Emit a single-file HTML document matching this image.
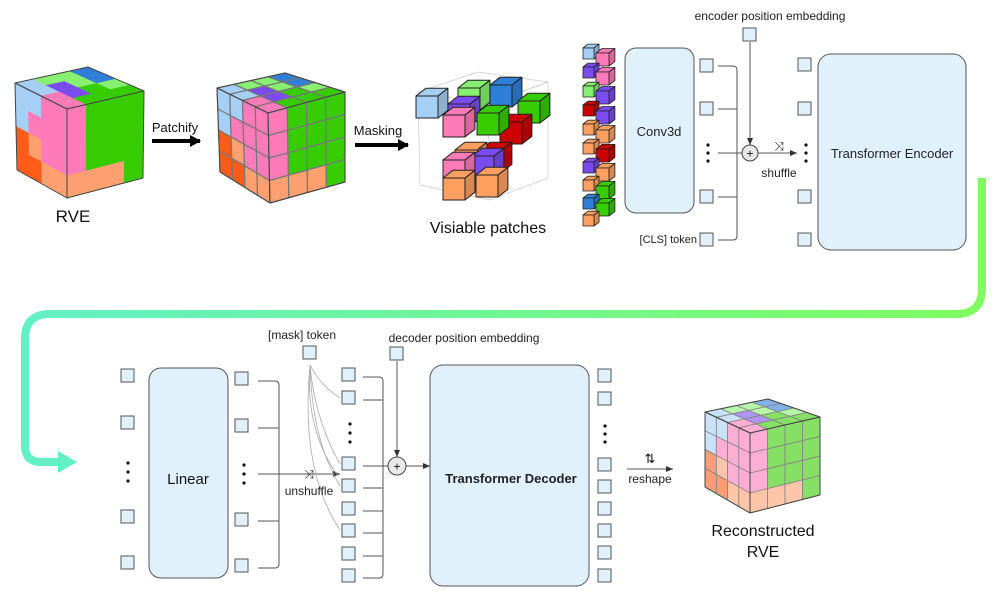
<!DOCTYPE html>
<html><head><meta charset="utf-8"><style>
html,body{margin:0;padding:0;background:#fff;}
svg{display:block;font-family:"Liberation Sans",Arial,sans-serif;}
</style></head><body>
<svg id="s" width="997" height="609" viewBox="0 0 997 609" xmlns="http://www.w3.org/2000/svg">
<defs>
<linearGradient id="gr" x1="0" y1="0" x2="1" y2="0">
<stop offset="0" stop-color="#62f0c6"/><stop offset="1" stop-color="#80fc60"/>
</linearGradient>
<marker id="ah" markerWidth="8" markerHeight="8" refX="7" refY="4" orient="auto" markerUnits="userSpaceOnUse">
<path d="M0,1 L7,4 L0,7 z" fill="#333"/></marker>
<marker id="bh" markerWidth="12" markerHeight="12" refX="10" refY="6" orient="auto" markerUnits="userSpaceOnUse">
<path d="M0,0 L11,6 L0,12 z" fill="#000"/></marker>
</defs>
<g id="cubes"></g>

<!-- top labels/arrows -->
<text x="73" y="222" font-size="17" text-anchor="middle" fill="#111">RVE</text>
<text x="175" y="132" font-size="13" text-anchor="middle" fill="#111">Patchify</text>
<line x1="152" y1="141" x2="200" y2="141" stroke="#000" stroke-width="4" marker-end="url(#bh)"/>
<text x="378" y="135" font-size="13" text-anchor="middle" fill="#111">Masking</text>
<line x1="355" y1="145" x2="408" y2="145" stroke="#000" stroke-width="4" marker-end="url(#bh)"/>
<text x="488" y="233" font-size="16" text-anchor="middle" fill="#111">Visiable patches</text>

<!-- encoder part -->
<rect x="625" y="48" width="69" height="165" rx="11" fill="#e1f1fc" stroke="#555" stroke-width="1"/>
<text x="659" y="136" font-size="13" text-anchor="middle" fill="#222">Conv3d</text>
<g fill="#e1f1fc" stroke="#555" stroke-width="1">
<rect x="700" y="59" width="13" height="13"/><rect x="700" y="102" width="13" height="13"/>
<rect x="700" y="190" width="13" height="13"/><rect x="700" y="233" width="13" height="13"/>
<rect x="743" y="28" width="13" height="13"/>
<rect x="798" y="58" width="13" height="13"/><rect x="798" y="102" width="13" height="13"/>
<rect x="798" y="190" width="13" height="13"/><rect x="798" y="233" width="13" height="13"/>
</g>
<g fill="#111"><circle cx="708" cy="145" r="1.6"/><circle cx="708" cy="153" r="1.6"/><circle cx="708" cy="161" r="1.6"/>
<circle cx="806" cy="145" r="1.6"/><circle cx="806" cy="153" r="1.6"/><circle cx="806" cy="161" r="1.6"/></g>
<text x="770" y="20" font-size="12" text-anchor="middle" fill="#222">encoder position embedding</text>
<text x="697" y="243" font-size="11" text-anchor="end" fill="#222">[CLS] token</text>
<g fill="none" stroke="#555" stroke-width="1">
<path d="M718 66 H733 Q737 66 737 70 V236 Q737 240 733 240 H718"/>
<line x1="718" y1="109" x2="737" y2="109"/><line x1="718" y1="197" x2="737" y2="197"/>
<line x1="718" y1="153" x2="742" y2="153"/>
<line x1="750" y1="42" x2="750" y2="145" marker-end="url(#ah)"/>
<line x1="758" y1="153" x2="797" y2="153" marker-end="url(#ah)"/>
</g>
<circle cx="750" cy="153" r="8" fill="#e8e8e8" stroke="#444"/>
<text x="750" y="157.5" font-size="12" text-anchor="middle" fill="#111">+</text>
<text x="779" y="150" font-size="12" text-anchor="middle" fill="#111">⤨</text>
<text x="779" y="177" font-size="12" text-anchor="middle" fill="#222">shuffle</text>
<rect x="818" y="54" width="148" height="196" rx="13" fill="#e1f1fc" stroke="#555"/>
<text x="892" y="158" font-size="13" text-anchor="middle" fill="#222">Transformer Encoder</text>

<!-- big gradient arrow -->
<path d="M982 178 V288 Q982 314 956 314 H50 Q25 314 25 339 V446 Q25 462 41 462 H62" fill="none" stroke="url(#gr)" stroke-width="8"/>
<path d="M58 451 L77 462 L58 473 z" fill="#62f0c6"/>

<!-- decoder part -->
<g fill="#e1f1fc" stroke="#555" stroke-width="1">
<rect x="121" y="369" width="13" height="13"/><rect x="121" y="416" width="13" height="13"/>
<rect x="121" y="510" width="13" height="13"/><rect x="121" y="556" width="13" height="13"/>
<rect x="235" y="372" width="13" height="13"/><rect x="235" y="419" width="13" height="13"/>
<rect x="235" y="513" width="13" height="13"/><rect x="235" y="559" width="13" height="13"/>
<rect x="303" y="346" width="13" height="13"/><rect x="390" y="347" width="13" height="13"/>
<rect x="342" y="368" width="13" height="13"/><rect x="342" y="391" width="13" height="13"/>
<rect x="342" y="457" width="13" height="13"/><rect x="342" y="479" width="13" height="13"/>
<rect x="342" y="502" width="13" height="13"/><rect x="342" y="524" width="13" height="13"/>
<rect x="342" y="547" width="13" height="13"/><rect x="342" y="569" width="13" height="13"/>
<rect x="598" y="369" width="13" height="13"/><rect x="598" y="392" width="13" height="13"/>
<rect x="598" y="458" width="13" height="13"/><rect x="598" y="480" width="13" height="13"/>
<rect x="598" y="502" width="13" height="13"/><rect x="598" y="524" width="13" height="13"/>
<rect x="598" y="546" width="13" height="13"/><rect x="598" y="569" width="13" height="13"/>
</g>
<g fill="#111">
<circle cx="128" cy="463" r="1.6"/><circle cx="128" cy="472" r="1.6"/><circle cx="128" cy="481" r="1.6"/>
<circle cx="244" cy="465" r="1.6"/><circle cx="244" cy="474" r="1.6"/><circle cx="244" cy="483" r="1.6"/>
<circle cx="350" cy="424" r="1.6"/><circle cx="350" cy="433" r="1.6"/><circle cx="350" cy="442" r="1.6"/>
<circle cx="605" cy="426" r="1.6"/><circle cx="605" cy="434" r="1.6"/><circle cx="605" cy="442" r="1.6"/>
</g>
<rect x="149" y="368" width="79" height="210" rx="12" fill="#e1f1fc" stroke="#555"/>
<text x="188" y="484" font-size="15" text-anchor="middle" fill="#111">Linear</text>
<g fill="none" stroke="#555" stroke-width="1">
<path d="M258 381 H275 Q279 381 279 385 V564 Q279 568 275 568 H258"/>
<line x1="258" y1="428" x2="279" y2="428"/><line x1="258" y1="521" x2="279" y2="521"/>
<line x1="258" y1="474" x2="340" y2="474" marker-end="url(#ah)"/>
<path d="M363 377 H379 Q383 377 383 381 V574 Q383 578 379 578 H363"/>
<line x1="363" y1="400" x2="383" y2="400"/><line x1="363" y1="488" x2="383" y2="488"/>
<line x1="363" y1="511" x2="383" y2="511"/><line x1="363" y1="533" x2="383" y2="533"/>
<line x1="363" y1="556" x2="383" y2="556"/>
<line x1="363" y1="466" x2="389" y2="466"/>
<line x1="397" y1="361" x2="397" y2="457" marker-end="url(#ah)"/>
<line x1="406" y1="466" x2="430" y2="466" marker-end="url(#ah)"/>
</g>
<g fill="none" stroke="#aaa" stroke-width="0.8">
<path d="M310 365 Q320 385 340 398"/><path d="M310 365 Q315 420 340 464"/>
<path d="M310 365 Q312 440 340 486"/><path d="M310 365 Q300 470 340 530"/>
<path d="M310 365 Q305 430 338 476"/>
</g>
<text x="302" y="339" font-size="12" text-anchor="middle" fill="#222">[mask] token</text>
<text x="464" y="342" font-size="12" text-anchor="middle" fill="#222">decoder position embedding</text>
<text x="309" y="478" font-size="12" text-anchor="middle" fill="#111">⤨</text>
<text x="309" y="495" font-size="12" text-anchor="middle" fill="#222">unshuffle</text>
<circle cx="397" cy="466" r="9" fill="#e8e8e8" stroke="#444"/>
<text x="397" y="470.5" font-size="12" text-anchor="middle" fill="#111">+</text>
<rect x="430" y="365" width="159" height="221" rx="13" fill="#e1f1fc" stroke="#555"/>
<text x="511" y="483" font-size="13" font-weight="bold" text-anchor="middle" fill="#222">Transformer Decoder</text>
<text x="650" y="463" font-size="13" text-anchor="middle" fill="#111">⇅</text>
<line x1="627" y1="469" x2="673" y2="469" stroke="#555" marker-end="url(#ah)"/>
<text x="650" y="483" font-size="12" text-anchor="middle" fill="#222">reshape</text>
<text x="763" y="536" font-size="16" text-anchor="middle" fill="#111">Reconstructed</text>
<text x="763" y="557" font-size="16" text-anchor="middle" fill="#111">RVE</text>
</svg>
<script>
var NS="http://www.w3.org/2000/svg",G=document.getElementById("cubes");
var C={lb:"#a6cff5",lg:"#88f070",bl:"#2f7fd8",pu:"#7a4cf0",pk:"#ff7ab8",gr:"#36cc00",ro:"#ff5c1a",sa:"#ffa070",rd:"#cc0000",or:"#ffa060"};
function poly(pts,fill,stroke,sw,op){var p=document.createElementNS(NS,"polygon");p.setAttribute("points",pts.map(function(q){return q[0].toFixed(1)+","+q[1].toFixed(1)}).join(" "));p.setAttribute("fill",fill);p.setAttribute("stroke",stroke);p.setAttribute("stroke-width",sw);if(op!=null)p.setAttribute("fill-opacity",op);p.setAttribute("stroke-linejoin","round");G.appendChild(p);}
function bil(c,u,v){return[(1-u)*(1-v)*c[0][0]+u*(1-v)*c[1][0]+(1-u)*v*c[2][0]+u*v*c[3][0],(1-u)*(1-v)*c[0][1]+u*(1-v)*c[1][1]+(1-u)*v*c[2][1]+u*v*c[3][1]];}
function face(c,g,st,sw,op){var R=g.length,K=g[0].length;for(var r=0;r<R;r++)for(var k=0;k<K;k++){var col=C[g[r][k]];poly([bil(c,k/K,r/R),bil(c,(k+1)/K,r/R),bil(c,(k+1)/K,(r+1)/R),bil(c,k/K,(r+1)/R)],col,st||col,sw,op);}
poly([c[0],c[1],c[3],c[2]],"none","#444",1);}
var TOP=[["lb","lg","lg","bl"],["lb","pu","lg","bl"],["pk","pu","gr","lg"],["pk","gr","gr","gr"]];
var LEFT=[["lb","lb","pk","pk"],["lb","pk","pk","pk"],["ro","sa","pk","pk"],["ro","ro","sa","sa"]];
var RIGHT=[["pk","gr","gr","gr"],["pk","gr","gr","gr"],["pk","gr","gr","gr"],["sa","sa","sa","gr"]];
function bigCube(L,B,R,N,BL,BN,BR,st,sw,op){face([L,B,N,R],TOP,st,sw,op);face([L,N,BL,BN],LEFT,st,sw,op);face([N,R,BN,BR],RIGHT,st,sw,op);}
bigCube([15,83],[88,67],[144,91],[67,109],[17,170],[67,198],[143,178],null,0.5);
bigCube([217,88],[285,73],[345,92],[268,113],[220,172],[270,203],[345,182],"#777",1.2);
// visible patches ghost box
var gl="#ccc";
poly([[418,92],[478,72],[548,82],[488,104]],"none",gl,0.7);
poly([[418,92],[488,104],[490,200],[420,185]],"none",gl,0.7);
poly([[488,104],[548,82],[548,178],[490,200]],"none",gl,0.7);
function box(x,y,s,col,sw){var d=s*0.45,h=s*0.35,c=C[col];
poly([[x,y],[x+s,y],[x+s+d,y-h],[x+d,y-h]],c,"#222",sw||1);
poly([[x,y],[x+d,y-h],[x+d,y-h],[x,y]],"#fff","none",0,0.3);
poly([[x+s,y],[x+s+d,y-h],[x+s+d,y+s-h],[x+s,y+s]],c,"#222",sw||1);
poly([[x+s,y],[x+s+d,y-h],[x+s+d,y+s-h],[x+s,y+s]],"#000","none",0,0.15);
poly([[x,y],[x+s,y],[x+s,y+s],[x,y+s]],c,"#222",sw||1);}
[[458,88,"lg"],[490,85,"bl"],[518,101,"gr"],[500,122,"rd"],[448,104,"pu"],[416,96,"lb"],[480,150,"rd"],[455,150,"or"],[443,115,"pk"],[477,113,"gr"],[472,156,"pu"],[443,160,"pk"],[476,175,"or"],[443,178,"or"]].forEach(function(b){box(b[0],b[1],22,b[2]);});
// column of small patch cubes
var Lc=["lb","pu","lg","rd","or","or","pu","or","bl","or"],Ly=[48,67,86,105,124,143,162,180,198,215];
var Rc=["pk","pk","pu","pu","or","rd","or","gr","gr"],Ry=[53,72,91,111,130,149,168,186,203];
for(var i=0;i<10;i++){box(583,Ly[i],11,Lc[i],0.8);if(i<9)box(596,Ry[i],13,Rc[i],0.8);}
// reconstructed
bigCube([705,412],[768,399],[820,417],[750,433],[705,487],[750,513],[820,495],"#888",0.8,0.6);
</script>
</body></html>
